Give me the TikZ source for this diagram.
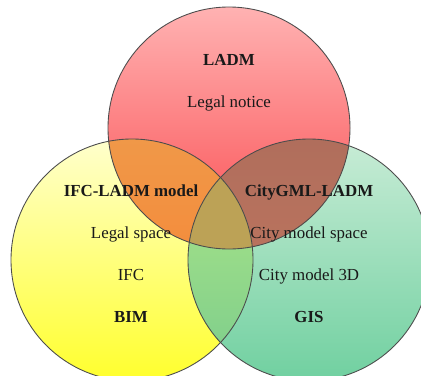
\documentclass[tikz,border=0pt]{standalone}
\usepackage{fontspec}
\setmainfont{Liberation Serif}
\usepackage{xcolor}
\usetikzlibrary{positioning}

\definecolor{redtop}{RGB}{255,178,178}
\definecolor{redbot}{RGB}{250,76,80}
\definecolor{yeltop}{RGB}{255,255,205}
\definecolor{yelbot}{RGB}{255,255,45}
\definecolor{grntop}{RGB}{200,236,214}
\definecolor{grnbot}{RGB}{112,208,160}
\definecolor{orgtop}{RGB}{240,152,72}
\definecolor{orgbot}{RGB}{248,128,48}
\definecolor{brntop}{RGB}{176,110,92}
\definecolor{brnbot}{RGB}{196,120,96}
\definecolor{limtop}{RGB}{178,232,135}
\definecolor{limbot}{RGB}{122,204,140}
\definecolor{olive}{RGB}{188,162,86}

\begin{document}
\begin{tikzpicture}[
    x=0.02cm, y=-0.02cm,
    ring/.style={draw=black!70, line width=0.5pt},
    lbl/.style={font=\fontsize{9.6}{11}\selectfont, text=black!90, inner sep=0pt, text height=7pt, text depth=2pt},
    head/.style={lbl, font=\fontsize{9.6}{11}\selectfont\bfseries},
    node distance=0.51cm
]
\useasboundingbox (0,0) rectangle (421,375);
\clip (0,0) rectangle (421,375);

% circle centres
\coordinate (cl) at (229,128);
\coordinate (cb) at (132,260);
\coordinate (cg) at (309,260);
\def\rad{121}

% single sets
\shade[top color=yeltop, bottom color=yelbot] (cb) circle[radius=\rad];
\shade[top color=grntop, bottom color=grnbot] (cg) circle[radius=\rad];
\shade[top color=redtop, bottom color=redbot] (cl) circle[radius=\rad];

% overlaps
\begin{scope}
    \clip (cl) circle[radius=\rad];
    \shade[top color=orgtop, bottom color=orgbot] (cb) circle[radius=\rad];
    \shade[top color=brntop, bottom color=brnbot] (cg) circle[radius=\rad];
\end{scope}
\begin{scope}
    \clip (cb) circle[radius=\rad];
    \shade[top color=limtop, bottom color=limbot] (cg) circle[radius=\rad];
    \clip (cl) circle[radius=\rad];
    \fill[olive] (cg) circle[radius=\rad];
\end{scope}

\draw[ring] (cb) circle[radius=\rad];
\draw[ring] (cg) circle[radius=\rad];
\draw[ring] (cl) circle[radius=\rad];

% LADM
\node[head] (ladm) at (229,61) {LADM};
\node[lbl, below=of ladm] (notice) {Legal notice};

% BIM side
\node[head] (ifcladm) at (131,192) {IFC-LADM model};
\node[lbl, below=of ifcladm] (legalspace) {Legal space};
\node[lbl, below=of legalspace] (ifc) {IFC};
\node[head, below=of ifc] (bim) {BIM};

% GIS side
\node[head] (cityladm) at (309,192) {CityGML-LADM};
\node[lbl, below=of cityladm] (cityspace) {City model space};
\node[lbl, below=of cityspace] (city3d) {City model 3D};
\node[head, below=of city3d] (gis) {GIS};
\end{tikzpicture}
\end{document}
